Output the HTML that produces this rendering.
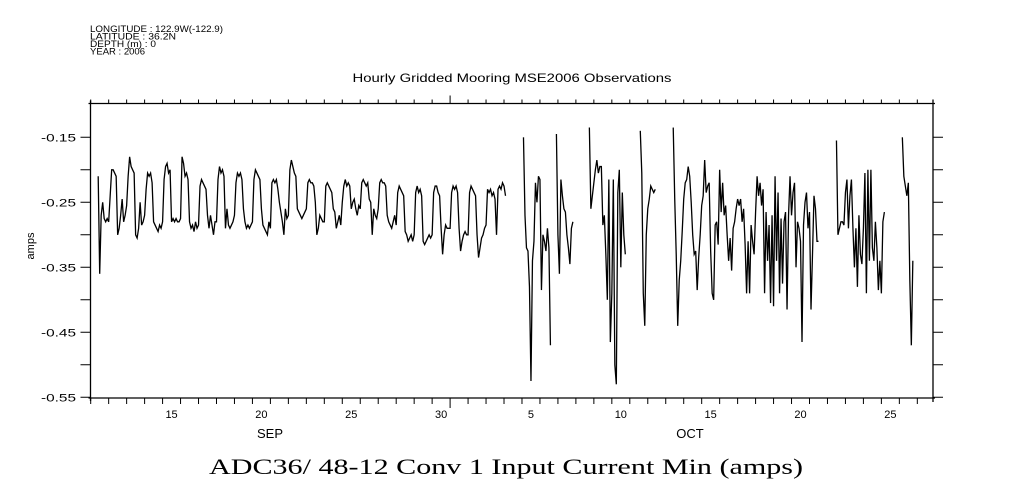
<!DOCTYPE html>
<html><head><meta charset="utf-8"><style>
html,body{margin:0;padding:0;background:#fff;}
svg{display:block;}
text{fill:#000;}
</style></head>
<body>
<svg id="chart" width="1009" height="504" viewBox="0 0 1009 504" xmlns="http://www.w3.org/2000/svg">
  <g font-family="Liberation Sans, sans-serif" font-size="9">
    <text x="90" y="32" textLength="133" lengthAdjust="spacingAndGlyphs">LONGITUDE : 122.9W(-122.9)</text>
    <text x="90" y="39.5" textLength="86" lengthAdjust="spacingAndGlyphs">LATITUDE : 36.2N</text>
    <text x="90" y="47" textLength="66" lengthAdjust="spacingAndGlyphs">DEPTH (m) : 0</text>
    <text x="90" y="54.5" textLength="55" lengthAdjust="spacingAndGlyphs">YEAR : 2006</text>
  </g>
  <text x="512" y="82" text-anchor="middle" font-family="Liberation Sans, sans-serif" font-size="12" textLength="319" lengthAdjust="spacingAndGlyphs">Hourly Gridded Mooring MSE2006 Observations</text>
  <text transform="translate(34,246) rotate(-90)" text-anchor="middle" font-family="Liberation Sans, sans-serif" font-size="11">amps</text>
  <g id="axes"></g>
  <g id="series"></g>
  <text x="270" y="438" text-anchor="middle" font-family="Liberation Sans, sans-serif" font-size="13">SEP</text>
  <text x="690" y="438" text-anchor="middle" font-family="Liberation Sans, sans-serif" font-size="13">OCT</text>
  <text x="506" y="474" text-anchor="middle" font-family="Liberation Serif, serif" font-size="22" textLength="594" lengthAdjust="spacingAndGlyphs">ADC36/ 48-12 Conv 1 Input Current Min (amps)</text>
</svg>
<script>
// ---- data (hours since Sep 11 00:00, 2-hour steps) ----
const sepStartHour = 10;
const sepAmps = [
-0.21,-0.36,-0.27,-0.25,-0.275,-0.28,-0.275,
-0.28,-0.24,-0.20,-0.20,-0.205,-0.21,-0.30,-0.29,-0.27,-0.245,-0.28,-0.27,
-0.255,-0.21,-0.18,-0.195,-0.20,-0.205,-0.30,-0.305,-0.29,-0.25,-0.285,-0.28,
-0.27,-0.23,-0.205,-0.21,-0.205,-0.22,-0.28,-0.285,-0.29,-0.295,-0.285,-0.29,
-0.28,-0.215,-0.195,-0.19,-0.205,-0.20,-0.28,-0.275,-0.28,-0.275,-0.28,-0.28,
-0.275,-0.18,-0.19,-0.21,-0.205,-0.215,-0.28,-0.29,-0.285,-0.295,-0.28,-0.29,
-0.285,-0.225,-0.215,-0.22,-0.225,-0.23,-0.27,-0.29,-0.27,-0.285,-0.30,-0.28,
-0.28,-0.215,-0.195,-0.205,-0.20,-0.21,-0.29,-0.26,-0.285,-0.29,-0.285,-0.28,
-0.27,-0.22,-0.205,-0.21,-0.205,-0.215,-0.26,-0.28,-0.29,-0.285,-0.29,-0.285,
-0.28,-0.215,-0.20,-0.205,-0.21,-0.215,-0.26,-0.285,-0.29,-0.295,-0.30,-0.28,
-0.29,-0.22,-0.215,-0.22,-0.215,-0.23,-0.25,-0.265,-0.28,-0.30,-0.26,-0.275,
-0.27,-0.20,-0.185,-0.195,-0.205,-0.21,-0.26,-0.265,-0.27,-0.275,-0.27,-0.265,
-0.26,-0.22,-0.215,-0.22,-0.22,-0.225,-0.25,-0.30,-0.29,-0.27,-0.275,-0.28,
-0.28,-0.225,-0.22,-0.225,-0.23,-0.235,-0.26,-0.265,-0.29,-0.28,-0.27,-0.285,
-0.25,-0.225,-0.215,-0.225,-0.22,-0.225,-0.26,-0.25,-0.245,-0.26,-0.27,-0.255,
-0.26,-0.22,-0.215,-0.22,-0.225,-0.22,-0.245,-0.25,-0.30,-0.26,-0.27,-0.275,
-0.26,-0.22,-0.215,-0.22,-0.22,-0.225,-0.27,-0.28,-0.285,-0.29,-0.28,-0.27,
-0.285,-0.235,-0.225,-0.23,-0.235,-0.24,-0.295,-0.30,-0.31,-0.305,-0.30,-0.31,
-0.30,-0.235,-0.225,-0.235,-0.23,-0.24,-0.31,-0.315,-0.31,-0.305,-0.30,-0.305,
-0.30,-0.235,-0.225,-0.225,-0.235,-0.24,-0.29,-0.33,-0.30,-0.285,-0.29,-0.29,
-0.29,-0.235,-0.225,-0.23,-0.225,-0.235,-0.29,-0.325,-0.31,-0.30,-0.295,-0.30,
-0.30,-0.235,-0.225,-0.23,-0.235,-0.24,-0.30,-0.335,-0.32,-0.305,-0.30,-0.29,
-0.285,-0.23,-0.235,-0.23,-0.24,-0.235,-0.245,-0.30,-0.23,-0.225,-0.23,-0.22,
-0.225,-0.24
];
const octSegStartHours = [578, 622, 666, 734, 778, 996, 1084];
const octSeg1 = [-0.15,-0.27,-0.32,-0.325,-0.38,-0.525,-0.34,-0.31,-0.22,-0.25,-0.21,-0.215,-0.385,-0.30,-0.31,-0.325,-0.29,-0.32,-0.47];
const octSeg2 = [-0.145,-0.30,-0.36,-0.215,-0.24,-0.26,-0.265,-0.30,-0.32,-0.345,-0.29,-0.28];
const octSeg3 = [-0.135,-0.26,-0.24,-0.22,-0.20,-0.185,-0.205,-0.195,-0.195,-0.285,-0.27,-0.33,-0.40,-0.215,-0.465,-0.39,-0.215,-0.50,-0.53,-0.235,-0.20,-0.35,-0.235,-0.30,-0.33];
const octSeg4 = [-0.14,-0.205,-0.39,-0.44,-0.30,-0.26,-0.245,-0.225,-0.23,-0.235,-0.23];
const octSeg5 = [-0.135,-0.245,-0.33,-0.44,-0.37,-0.34,-0.295,-0.245,-0.22,-0.215,-0.195,-0.21,-0.25,-0.30,-0.33,-0.325,-0.385,-0.335,-0.30,-0.255,
-0.24,-0.185,-0.235,-0.225,-0.22,-0.325,-0.39,-0.40,-0.285,-0.28,-0.315,-0.20,-0.265,-0.22,-0.27,-0.255,-0.30,-0.34,-0.305,-0.355,
-0.29,-0.28,-0.26,-0.245,-0.255,-0.245,-0.28,-0.26,-0.315,-0.39,-0.31,-0.39,-0.285,-0.31,-0.33,-0.265,-0.21,-0.24,-0.22,-0.255,
-0.23,-0.39,-0.265,-0.34,-0.285,-0.405,-0.27,-0.41,-0.21,-0.34,-0.235,-0.39,-0.275,-0.375,-0.28,-0.265,-0.415,-0.27,-0.21,-0.27,
-0.235,-0.22,-0.35,-0.28,-0.29,-0.31,-0.465,-0.285,-0.25,-0.235,-0.29,-0.265,-0.415,-0.33,-0.24,-0.26,-0.31,-0.31];
const octSeg6 = [-0.155,-0.30,-0.29,-0.28,-0.28,-0.285,-0.235,-0.215,-0.29,-0.24,-0.215,-0.29,-0.35,-0.29,-0.38,-0.27,-0.33,-0.345,-0.29,-0.205,
-0.39,-0.20,-0.34,-0.20,-0.32,-0.34,-0.28,-0.32,-0.385,-0.34,-0.39,-0.28,-0.265];
const octSeg7 = [-0.15,-0.21,-0.225,-0.24,-0.22,-0.37,-0.47,-0.34];
const stepHours = 2;
const yTickValues = [-0.15,-0.25,-0.35,-0.45,-0.55];
const yTickLabels = ["-0.15","-0.25","-0.35","-0.45","-0.55"];
const yMinorValues = [-0.15,-0.20,-0.25,-0.30,-0.35,-0.40,-0.45,-0.50,-0.55];
const dayLabels = ["15","20","25","30","5","10","15","20","25"];
const dayLabelDays = [4,9,14,19,24,29,34,39,44]; // days since Sep 11
const totalDays = 47;

// ---- axis functions ----
const X0 = 90.7, PX_PER_DAY = 17.97, LEFT = 90.5, RIGHT = 933, TOP = 103.5, BOTTOM = 398;
function xHour(h){ return X0 + (h/24)*PX_PER_DAY; }
function xDay(d){ return X0 + d*PX_PER_DAY; }
function yVal(v){ return 137.3 + (-0.15 - v)*650; }

const NS = "http://www.w3.org/2000/svg";
function mk(tag, attrs){ const e=document.createElementNS(NS,tag); for(const k in attrs) e.setAttribute(k,attrs[k]); return e; }
const axes = document.getElementById('axes');
const series = document.getElementById('series');

const frame = mk('path',{d:`M${LEFT},${TOP-3}V${BOTTOM+3}M${RIGHT},${TOP-4}V${BOTTOM+4}M${LEFT-2},${TOP}H${RIGHT+2}M${LEFT-2},${BOTTOM}H${RIGHT+2}`,stroke:'#000','stroke-width':'1.3',fill:'none'});


axes.appendChild(frame);

yMinorValues.forEach(v=>{
  const y=yVal(v);
  const t=mk('path',{d:`M${LEFT-10},${y}H${LEFT}M${RIGHT},${y}H${RIGHT+10}`,stroke:'#000','stroke-width':'1'});
  
  
  axes.appendChild(t);
});
yTickValues.forEach((v,i)=>{
  const tx=mk('text',{x:76,y:yVal(v)+4,'text-anchor':'end','font-family':'Liberation Sans, sans-serif','font-size':'11',textLength:'35',lengthAdjust:'spacingAndGlyphs'});
  tx.textContent=yTickLabels[i];
  
  
  axes.appendChild(tx);
});
for(let d=0; d<totalDays; d++){
  const x=xDay(d);
  if(x>RIGHT) break;
  const major = (d===20);
  const t=mk('path',{d:`M${x},${TOP-(major?8:4)}V${TOP}M${x},${BOTTOM}V${BOTTOM+(major?10:6)}`,stroke:'#000','stroke-width':'1'});
  
  
  axes.appendChild(t);
}
dayLabels.forEach((lab,i)=>{
  const tx=mk('text',{x:xDay(dayLabelDays[i]+0.5),y:418,'text-anchor':'middle','font-family':'Liberation Sans, sans-serif','font-size':'11'});
  tx.textContent=lab;
  
  
  axes.appendChild(tx);
});

function drawSeg(startHour, vals){
  let d='';
  vals.forEach((v,i)=>{ d += (i?'L':'M') + xHour(startHour+i*stepHours).toFixed(2) + ',' + yVal(v).toFixed(2); });
  const p=mk('path',{d:d,stroke:'#000','stroke-width':'1.3',fill:'none','stroke-linejoin':'miter'});
  
  
  series.appendChild(p);
}
drawSeg(sepStartHour, sepAmps);
[octSeg1,octSeg2,octSeg3,octSeg4,octSeg5,octSeg6,octSeg7].forEach((s,i)=>drawSeg(octSegStartHours[i], s));
</script>
</body></html>
